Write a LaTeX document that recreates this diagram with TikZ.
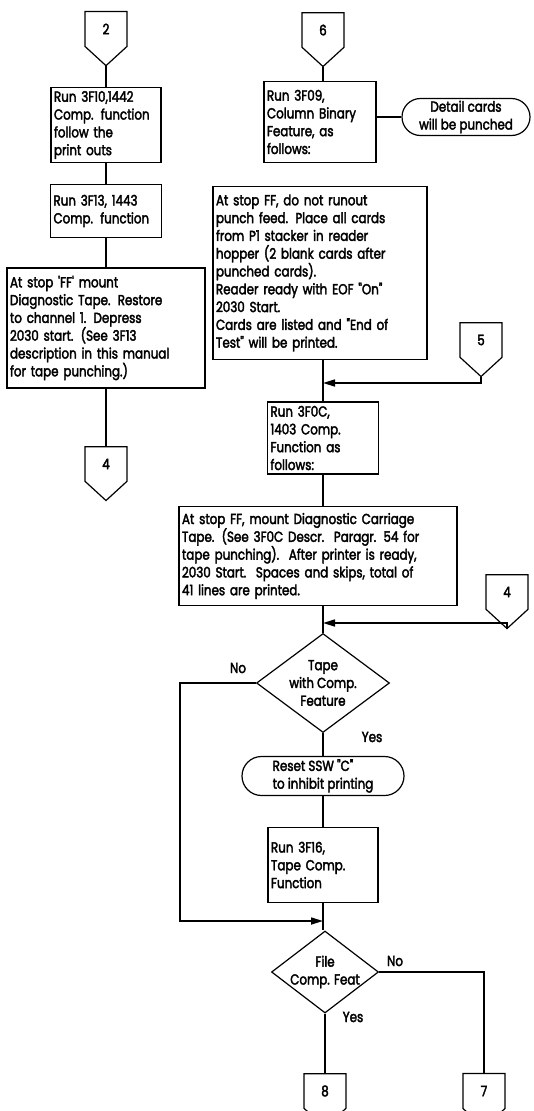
\documentclass[tikz,border=0pt]{standalone}
\usepackage{fontspec}
\setmainfont[FakeStretch=0.82, FakeBold=2.5, Ligatures=TeXOff]{Poppins}
\usetikzlibrary{shapes.geometric, shapes.misc, shapes.symbols, arrows.meta}
\tikzset{box/.style={draw, line width=1.2pt, rectangle, align=left, inner xsep=3pt, inner ysep=2pt},
         terminal/.style={draw, line width=1.2pt, rounded rectangle, inner sep=2pt},
         decision/.style={draw, line width=1.2pt, diamond, align=center, inner sep=-20pt},
         offpage/.style={draw, line width=1.2pt, signal, signal to=south, signal pointer angle=95,
                         minimum width=42pt, minimum height=38pt, inner sep=0pt},
         flow/.style={line width=1.6pt},
         flowarrow/.style={line width=1.6pt, -{Triangle[length=12pt,width=7pt]}},
         lbl/.style={inner sep=0pt},
        }

\begin{document}
\begin{tikzpicture}[x=1pt, y=-1pt, font=\fontsize{14.5}{17.8}\selectfont]
        \useasboundingbox (0,0) rectangle (533,1111);
        % left column
        \node[offpage](c2)at(106,29){2};
        \node[box, text width=104pt, minimum height=75pt](b1)at(106,125){Run 3F10,1442\\Comp. function\\follow the\\print outs};
        \node[box, text width=105pt, minimum height=53pt](b2)at(106,211){Run 3F13, 1443\\Comp. function};
        \node[box, text width=192pt, minimum height=120pt](b3)at(106,328){At stop 'FF' mount\\Diagnostic Tape. Restore\\to channel 1. Depress\\2030 start. (See 3F13\\description in this manual\\for tape punching.)};
        \node[offpage](c4a)at(106,464){4};

        % right column
        \node[offpage](c6)at(323,30){6};
        \node[box, text width=106pt, minimum height=81pt](r1)at(320,122){Run 3F09,\\Column Binary\\Feature, as\\follows:};
        \node[terminal, minimum width=132pt, minimum height=37pt, align=center](detail)at(466,117){Detail cards\\will be punched};
        \node[box, text width=208pt, minimum height=173pt](r2)at(320,273){At stop FF, do not runout\\punch feed. Place all cards\\from P1 stacker in reader\\hopper (2 blank cards after\\punched cards).\\Reader ready with EOF "On"\\2030 Start.\\Cards are listed and "End of\\Test" will be printed.};
        \node[offpage](c5)at(481,340){5};
        \coordinate(m1)at(323,383);
        \node[box, text width=105pt, minimum height=72pt](r3)at(323,438){Run 3F0C,\\1403 Comp.\\Function as\\follows:};
        \node[box, text width=272pt, minimum height=99pt](r4)at(318,556){At stop FF, mount Diagnostic Carriage\\Tape. (See 3F0C Descr.\ \ Paragr. 54 for\\tape punching).\ \ After printer is ready,\\2030 Start.\ \ Spaces and skips, total of\\41 lines are printed.};
        \node[offpage](c4b)at(507,592){4};
        \coordinate(m2)at(323,623);
        \node[decision, minimum width=133pt, minimum height=99pt](d1)at(323,683){Tape\\with Comp.\\Feature};
        \node[lbl](no1)at(238,668){No};
        \node[lbl](yes1)at(372,737){Yes};
        \node[terminal, minimum width=166pt, minimum height=39pt, align=left](t1)at(323,776){Reset SSW "C"\\to inhibit printing};
        \node[box, text width=104pt, minimum height=75pt](r5)at(323,865){Run 3F16,\\Tape Comp.\\Function};
        \coordinate(m3)at(323,921);
        \node[decision, minimum width=107pt, minimum height=82pt](d2)at(325,972){File\\Comp. Feat};
        \node[lbl](no2)at(395,961){No};
        \node[lbl](yes2)at(353,1017){Yes};
        \node[offpage](c8)at(325,1091){8};
        \node[offpage](c7)at(484,1091){7};

        \draw[flow](c2.south)--(b1.north);
        \draw[flow](b1.south)--(b2.north);
        \draw[flow](b2.south)--(b3.north);
        \draw[flow](b3.south)--(c4a.north);

        \draw[flow](c6.south)--(c6.south|-r1.north);
        \draw[flow](r1.east|-detail.west)--(detail.west);
        \draw[flow](r2.south-|m1)--(r3.north);
        \draw[flowarrow](c5.south)|-(m1);
        \draw[flow](r3.south)--(r3.south|-r4.north);
        \draw[flow](r4.south-|m2)--(d1.north);
        \draw[flowarrow](c4b.south)|-(m2);
        \draw[flow](d1.south)--(t1.north);
        \draw[flowarrow](d1.west)--++(-76,0)|-(m3);
        \draw[flow](t1.south)--(r5.north);
        \draw[flow](r5.south)--(r5.south|-d2.north);
        \draw[flow](d2.south)--(c8.north);
        \draw[flow](d2.east)-|(c7.north);
    \end{tikzpicture}
\end{document}
